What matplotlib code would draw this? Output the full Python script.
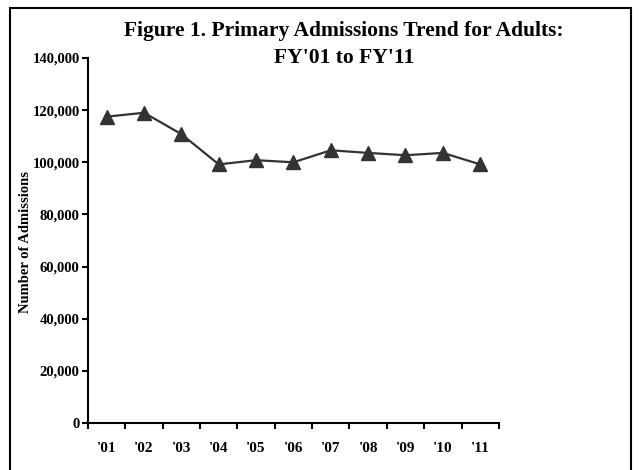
import numpy as np
import matplotlib.pyplot as plt
from matplotlib.patches import Rectangle
from matplotlib.ticker import FuncFormatter

years = ["'01", "'02", "'03", "'04", "'05", "'06", "'07", "'08", "'09", "'10", "'11"]
admissions = [117500, 119000, 110800, 99200, 100800, 100000, 104600, 103600, 102700, 103600, 99200]

plt.rcParams['font.family'] = ['Liberation Serif', 'DejaVu Serif']
plt.rcParams['font.weight'] = 'bold'

fig = plt.figure(figsize=(6.4, 4.7), dpi=100)
ax = fig.add_axes([0.1375, 0.1, 0.642, 0.7766])

x = np.arange(1, len(years) + 1)
ax.plot(x, admissions, color='#333333', linewidth=1.6, marker='^',
        markersize=10, markerfacecolor='#333333', markeredgecolor='#333333')

ax.set_xlim(0.5, len(years) + 0.5)
ax.set_ylim(0, 140000)
ax.set_yticks(np.arange(0, 140001, 20000))
ax.yaxis.set_major_formatter(FuncFormatter(lambda v, p: '{:,.0f}'.format(v)))

# ticks on category boundaries, labels at centres
ax.set_xticks(np.arange(0.5, len(years) + 1, 1))
ax.set_xticklabels([])
ax.set_xticks(x, minor=True)
ax.set_xticklabels(years, minor=True)
ax.tick_params(axis='x', which='minor', length=0, pad=14, labelsize=11)
ax.tick_params(axis='x', which='major', length=4, width=1.5, direction='out')
ax.tick_params(axis='y', length=4, width=1.5, direction='out', labelsize=10.5, pad=2)

for s in ['top', 'right']:
    ax.spines[s].set_visible(False)
for s in ['left', 'bottom']:
    ax.spines[s].set_linewidth(1.5)

# y axis title
fig.text(26 / 640, 1 - 242 / 470, 'Number of Admissions', rotation=90,
         ha='center', va='center', fontsize=10.5, fontweight='bold')

fig.text(0.5375, 0.934, 'Figure 1. Primary Admissions Trend for Adults:',
         ha='center', va='center', fontsize=15.5, fontweight='bold')
fig.text(0.5375, 0.877, "FY'01 to FY'11",
         ha='center', va='center', fontsize=15.5, fontweight='bold')

fig.patches.append(Rectangle((10 / 640, -0.1), 621 / 640, 1.1 - 8 / 470,
                             transform=fig.transFigure, fill=False,
                             edgecolor='black', linewidth=1.5))

fig.savefig('out.png', dpi=100)
